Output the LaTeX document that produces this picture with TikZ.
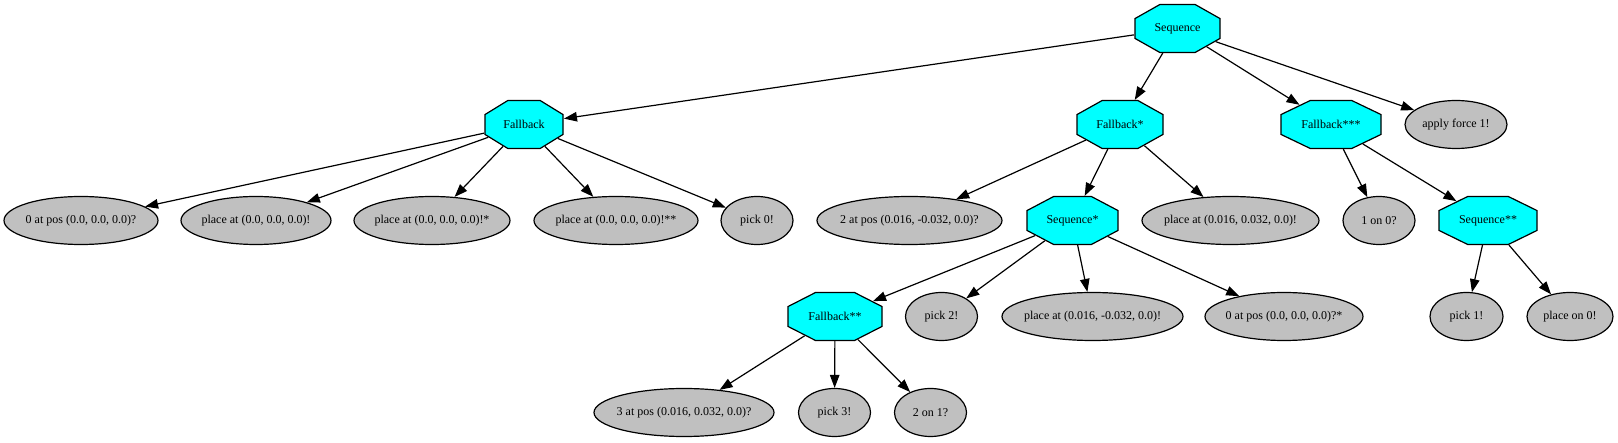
\documentclass[tikz,border=0pt]{standalone}
\usepackage{fontspec}
\setmainfont{Liberation Serif}
\usepackage{graphicx}
\usetikzlibrary{shapes.geometric,arrows.meta}
\definecolor{gvgray}{RGB}{192,192,192}
\definecolor{gvcyan}{RGB}{0,255,255}
\begin{document}
\begin{tikzpicture}[x=1pt,y=-1pt,
  font=\fontsize{12}{14}\selectfont,
  oct/.style={regular polygon, regular polygon sides=8, minimum size=51.96pt,
    inner sep=0pt, draw=black, fill=gvcyan, line width=1.2pt, xscale=#1/48},
  ell/.style={ellipse, draw=black, fill=gvgray, line width=1.2pt, inner sep=0pt,
    minimum height=48pt, minimum width=#1},
  conn/.style={draw=black, line width=1.2pt, -{Triangle[length=13pt,width=9.5pt]}}
]
\fill[white] (0,0) rectangle (1618,443);
\useasboundingbox (0,0) rectangle (1618,443);

% row 0
\node[oct=85] (seq) at (1177.5,28.5) {\scalebox{0.5647}[1]{Sequence}};
% row 1
\node[oct=78] (fb) at (524,124.5) {\scalebox{0.6154}[1]{Fallback}};
\node[oct=86] (fb1) at (1120,124.5) {\scalebox{0.5581}[1]{Fallback*}};
\node[oct=100] (fb3) at (1331,124.5) {\scalebox{0.48}[1]{Fallback***}};
\node[ell=102pt] (force) at (1456,124.5) {\makebox[0pt]{apply force 1!}};
% row 2
\node[ell=154pt] (a0) at (81,220.5) {\makebox[0pt]{0 at pos (0.0, 0.0, 0.0)?}};
\node[ell=150pt] (a1) at (256,220.5) {\makebox[0pt]{place at (0.0, 0.0, 0.0)!}};
\node[ell=156pt] (a2) at (432,220.5) {\makebox[0pt]{place at (0.0, 0.0, 0.0)!*}};
\node[ell=164pt] (a3) at (616,220.5) {\makebox[0pt]{place at (0.0, 0.0, 0.0)!**}};
\node[ell=72pt] (a4) at (757,220.5) {\makebox[0pt]{pick 0!}};
\node[ell=185pt] (b0) at (909.5,220.5) {\makebox[0pt]{2 at pos (0.016, -0.032, 0.0)?}};
\node[oct=91] (seq1) at (1072.5,220.5) {\scalebox{0.5275}[1]{Sequence*}};
\node[ell=177pt] (b2) at (1230.5,220.5) {\makebox[0pt]{place at (0.016, 0.032, 0.0)!}};
\node[ell=72pt] (c0) at (1379,220.5) {\makebox[0pt]{1 on 0?}};
\node[oct=98] (seq2) at (1488,220.5) {\scalebox{0.4898}[1]{Sequence**}};
% row 3
\node[oct=94] (fb2) at (835,316.5) {\scalebox{0.5106}[1]{Fallback**}};
\node[ell=72pt] (d1) at (941.5,316.5) {\makebox[0pt]{pick 2!}};
\node[ell=181pt] (d2) at (1092.5,316.5) {\makebox[0pt]{place at (0.016, -0.032, 0.0)!}};
\node[ell=158pt] (d3) at (1284,316.5) {\makebox[0pt]{0 at pos (0.0, 0.0, 0.0)?*}};
\node[ell=73pt] (e0) at (1466.5,316.5) {\makebox[0pt]{pick 1!}};
\node[ell=86pt] (e1) at (1570,316.5) {\makebox[0pt]{place on 0!}};
% row 4
\node[ell=180pt] (f0) at (684,412.5) {\makebox[0pt]{3 at pos (0.016, 0.032, 0.0)?}};
\node[ell=72pt] (f1) at (834.5,412.5) {\makebox[0pt]{pick 3!}};
\node[ell=72pt] (f2) at (930.5,412.5) {\makebox[0pt]{2 on 1?}};

% connectors
\foreach \c in {fb,fb1,fb3,force} \draw[conn] (seq) -- (\c);
\foreach \c in {a0,a1,a2,a3,a4} \draw[conn] (fb) -- (\c);
\foreach \c in {b0,seq1,b2} \draw[conn] (fb1) -- (\c);
\foreach \c in {c0,seq2} \draw[conn] (fb3) -- (\c);
\foreach \c in {fb2,d1,d2,d3} \draw[conn] (seq1) -- (\c);
\foreach \c in {e0,e1} \draw[conn] (seq2) -- (\c);
\foreach \c in {f0,f1,f2} \draw[conn] (fb2) -- (\c);
\end{tikzpicture}
\end{document}
